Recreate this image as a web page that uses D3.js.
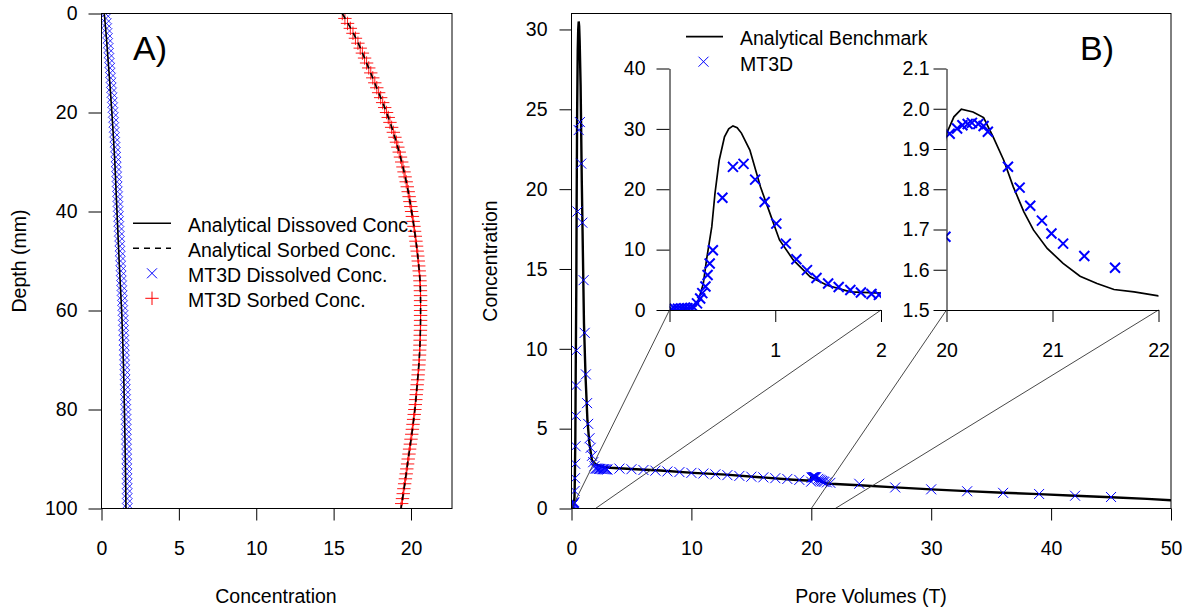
<!DOCTYPE html>
<html><head><meta charset="utf-8">
<script src="https://cdn.jsdelivr.net/npm/d3@7"></script>
<style>body{margin:0;background:#fff} svg text{font-family:"Liberation Sans",Arial,sans-serif}</style>
</head><body><svg id="c" width="1186" height="609"></svg>
<script>
// ---------- Panel A data ----------
const depthLine = [0,5,10,15,20,25,30,35,40,45,50,55,60,65,70,75,80,85,90,95,100];
const anaDissolved = [0.18,0.32,0.44,0.56,0.67,0.77,0.86,0.93,1.00,1.07,1.14,1.22,1.30,1.36,1.41,1.45,1.48,1.51,1.54,1.56,1.58];
const anaSorbed = [15.56,16.44,17.13,17.78,18.42,18.96,19.40,19.76,20.04,20.28,20.47,20.60,20.62,20.60,20.53,20.40,20.25,20.05,19.82,19.60,19.35];
const depthPts = [0,1,2,3,4,5,6,7,8,9,10,11,12,13,14,15,16,17,18,19,20,21,22,23,24,25,26,27,28,29,30,31,32,33,34,35,36,37,38,39,40,41,42,43,44,45,46,47,48,49,50,
  51,52,53,54,55,56,57,58,59,60,61,62,63,64,65,66,67,68,69,70,71,72,73,74,75,76,77,78,79,80,81,82,83,84,85,86,87,88,89,90,91,92,93,94,95,96,97,98,99,100];
const mtDissolved = [0.26,0.29,0.32,0.35,0.37,0.40,0.42,0.45,0.47,0.50,0.52,0.55,0.57,0.60,0.62,0.64,0.66,0.69,0.71,0.73,0.75,0.77,0.79,0.81,0.83,0.85,0.87,0.89,0.91,0.93,
  0.94,0.96,0.97,0.99,1.00,1.02,1.03,1.05,1.06,1.07,1.08,1.10,1.11,1.13,1.14,1.16,1.17,1.19,1.20,1.22,1.23,1.25,1.26,1.28,1.29,1.31,1.32,1.34,1.35,1.37,
  1.38,1.40,1.41,1.42,1.43,1.44,1.45,1.46,1.47,1.48,1.49,1.50,1.51,1.52,1.53,1.54,1.54,1.55,1.56,1.57,1.57,1.58,1.59,1.60,1.60,1.61,1.61,1.62,1.62,1.63,
  1.63,1.64,1.64,1.65,1.65,1.66,1.66,1.66,1.66,1.67,1.67];
const mtSorbed = [15.56,15.73,15.90,16.08,16.25,16.41,16.57,16.72,16.86,17.00,17.13,17.27,17.40,17.53,17.66,17.79,17.91,18.04,18.17,18.30,18.42,18.53,18.64,18.75,18.86,18.96,19.06,19.15,19.24,19.32,
  19.40,19.48,19.55,19.62,19.69,19.76,19.82,19.88,19.93,19.99,20.04,20.09,20.14,20.19,20.23,20.28,20.32,20.36,20.40,20.44,20.47,20.50,20.53,20.56,20.58,20.60,20.61,20.62,20.62,20.62,
  20.62,20.62,20.62,20.62,20.61,20.60,20.59,20.58,20.56,20.55,20.53,20.51,20.48,20.46,20.43,20.40,20.37,20.34,20.31,20.28,20.25,20.21,20.17,20.13,20.09,20.05,20.00,19.96,19.91,19.87,
  19.82,19.78,19.73,19.69,19.64,19.59,19.54,19.50,19.45,19.40,19.35];
const ticksAx = [0,5,10,15,20];
const ticksAy = [0,20,40,60,80,100];
const legendA = ["Analytical Dissoved Conc.","Analytical Sorbed Conc.","MT3D Dissolved Conc.","MT3D Sorbed Conc."];

// ---------- Panel B data ----------
const benchT = [0,0.1,0.2,0.25,0.27,0.32,0.35,0.40,0.43,0.47,0.52,0.56,0.60,0.64,0.68,0.76,0.86,0.95,1.04,1.17,1.33,1.49,1.71,2.0,2.5,3.2,5.0,7.4,10.15,12.9,15.7,18.5,19.6,19.9,20.0,20.07,20.14,20.25,20.35,20.44,20.54,20.63,20.73,20.82,20.95,21.1,21.26,21.42,21.58,21.77,22.0,24,27,30,33,36,39,42,45,48,50];
const benchC = [0,0.05,0.3,0.7,1.4,4.4,8.3,13.8,19.3,24.8,28.7,30.0,30.5,30.2,29.3,26.5,20.4,16.0,11.6,8.3,5.5,4.1,3.0,2.78,2.62,2.55,2.47,2.38,2.23,2.12,1.96,1.80,1.75,1.78,1.938,1.98,1.999,1.992,1.978,1.93,1.872,1.806,1.744,1.699,1.653,1.616,1.584,1.566,1.551,1.545,1.535,1.46,1.32,1.20,1.09,0.99,0.90,0.80,0.70,0.60,0.52];
const mtT = [0.02,0.05,0.08,0.11,0.14,0.17,0.20,0.23,0.26,0.29,0.31,0.34,0.36,0.38,0.41,0.50,0.60,0.70,0.81,0.90,1.01,1.10,1.20,1.30,1.39,1.50,1.60,1.71,1.81,1.91,1.98,
  2.1,2.2,2.3,2.4,2.5,2.6,2.7,2.8,2.9,3.0,4,5,6,7,8,9,10,11,12,13,14,15,16,17,18,19,
  19.99,20.03,20.10,20.15,20.20,20.24,20.30,20.35,20.39,20.58,20.69,20.79,20.90,20.99,21.10,21.30,21.59,
  24,27,30,33,36,39,42,45];
const mtC = [0.15,0.2,0.2,0.25,0.3,0.3,0.35,0.4,1.1,1.9,2.8,3.9,5.8,7.7,9.9,18.6,23.7,24.2,21.6,17.9,14.3,11.0,8.4,6.6,5.3,4.4,3.8,3.3,2.9,2.65,2.5,
  2.5,2.5,2.48,2.48,2.47,2.46,2.46,2.45,2.45,2.44,2.5,2.46,2.41,2.37,2.32,2.28,2.23,2.19,2.14,2.09,2.04,1.99,1.95,1.90,1.85,1.79,
  1.682,1.938,1.951,1.959,1.962,1.965,1.962,1.957,1.943,1.856,1.804,1.759,1.722,1.690,1.665,1.634,1.605,
  1.55,1.32,1.20,1.08,0.98,0.91,0.80,0.72];
const ticksBx = [0,10,20,30,40,50];
const ticksBy = [0,5,10,15,20,25,30];
const ticksI1x = [0,1,2], ticksI1y = [0,10,20,30,40];
const ticksI2x = [20,21,22], ticksI2y = [1.5,1.6,1.7,1.8,1.9,2.0,2.1];
const legendB = ["Analytical Benchmark","MT3D"];

// ---------- setup ----------
const svg = d3.select("#c");
const FS = 19.5;
const defs = svg.append("defs");
function clip(id,x0,y0,x1,y1){defs.append("clipPath").attr("id",id).append("rect").attr("x",x0).attr("y",y0).attr("width",x1-x0).attr("height",y1-y0);}
function xMark(g,cx,cy,r,col,sw){g.append("path").attr("d",`M${cx-r},${cy-r}L${cx+r},${cy+r}M${cx-r},${cy+r}L${cx+r},${cy-r}`).attr("stroke",col).attr("stroke-width",sw).attr("fill","none");}
function plusMark(g,cx,cy,r,col,sw){g.append("path").attr("d",`M${cx-r},${cy}L${cx+r},${cy}M${cx},${cy-r}L${cx},${cy+r}`).attr("stroke",col).attr("stroke-width",sw).attr("fill","none");}
function styleAxis(g,fs){g.attr("font-size",fs).attr("font-family",null);g.selectAll("text").attr("fill","#000");g.selectAll("line,path").attr("stroke","#000");}

// ---------- Panel A ----------
const xA = d3.scaleLinear([0,22.65],[101.5,452]);
const yA = d3.scaleLinear([0,100],[13.5,508.5]);
clip("clipA",101.5,13.5,452,508.5);
const gA = svg.append("g");
const plotA = gA.append("g").attr("clip-path","url(#clipA)");
depthPts.forEach((d,i)=>xMark(plotA,xA(mtDissolved[i]),yA(d),5,"#0000ff",0.8));
depthPts.forEach((d,i)=>plusMark(plotA,xA(mtSorbed[i]),yA(d),6.7,"#ff0000",0.9));
const lineA = d3.line().curve(d3.curveMonotoneY);
plotA.append("path").attr("d",lineA(depthLine.map((d,i)=>[xA(anaDissolved[i]),yA(d)]))).attr("fill","none").attr("stroke","#000").attr("stroke-width",1.6);
plotA.append("path").attr("d",lineA(depthLine.map((d,i)=>[xA(anaSorbed[i]),yA(d)]))).attr("fill","none").attr("stroke","#000").attr("stroke-width",1.6).attr("stroke-dasharray","6,5");
gA.append("rect").attr("x",101.5).attr("y",13.5).attr("width",350.5).attr("height",495).attr("fill","none").attr("stroke","#000");
const axAx = gA.append("g").attr("transform","translate(0,508.5)").call(d3.axisBottom(xA).tickValues(ticksAx).tickSize(12).tickPadding(21).tickSizeOuter(0).tickFormat(d3.format("d")));
styleAxis(axAx,FS); axAx.select(".domain").remove();
const axAy = gA.append("g").attr("transform","translate(101.5,0)").call(d3.axisLeft(yA).tickValues(ticksAy).tickSize(13).tickPadding(11).tickSizeOuter(0).tickFormat(d3.format("d")));
styleAxis(axAy,FS); axAy.select(".domain").remove();
gA.append("text").attr("x",276).attr("y",603).attr("text-anchor","middle").attr("font-size",FS).text("Concentration");
gA.append("text").attr("transform","translate(26,261) rotate(-90)").attr("text-anchor","middle").attr("font-size",FS).text("Depth (mm)");
gA.append("text").attr("x",133).attr("y",60).attr("font-size",34).text("A)");
// legend A
const legAy = [223.3,248.3,273.3,298.3];
gA.append("line").attr("x1",133).attr("x2",171).attr("y1",legAy[0]).attr("y2",legAy[0]).attr("stroke","#000").attr("stroke-width",1.6);
gA.append("line").attr("x1",133).attr("x2",171).attr("y1",legAy[1]).attr("y2",legAy[1]).attr("stroke","#000").attr("stroke-width",1.6).attr("stroke-dasharray","6,5");
xMark(gA,152,legAy[2],5,"#0000ff",1);
plusMark(gA,152,legAy[3],6.7,"#ff0000",1);
legendA.forEach((t,i)=>gA.append("text").attr("x",188).attr("y",legAy[i]+9).attr("font-size",FS).text(t));

// ---------- Panel B main ----------
const xB = d3.scaleLinear([0,50],[571.5,1171]);
const yB = d3.scaleLinear([0,31],[508.5,13.5]);
clip("clipB",571.5,13.5,1171,508.5);
const gB = svg.append("g");
const plotB = gB.append("g").attr("clip-path","url(#clipB)");
plotB.append("path").attr("d",d3.line()(benchT.map((t,i)=>[xB(t),yB(benchC[i])]))).attr("fill","none").attr("stroke","#000").attr("stroke-width",2.4);
mtT.forEach((t,i)=>xMark(plotB,xB(t),yB(mtC[i]),5,"#0000ff",1));

// insets
const xI1 = d3.scaleLinear([0,2],[669.5,881]);
const yI1 = d3.scaleLinear([0,40],[310,68.5]);
const xI2 = d3.scaleLinear([20,22],[946.5,1158.5]);
const yI2 = d3.scaleLinear([1.5,2.1],[310,68.5]);
// connector lines
[[0,xI1,yI1,0],[2,xI1,yI1,0],[20,xI2,yI2,1.5],[22,xI2,yI2,1.5]].forEach(([t,sx,sy,c0])=>{
  gB.append("line").attr("x1",xB(t)).attr("y1",yB(0)).attr("x2",sx(t)).attr("y2",sy(c0)).attr("stroke","#333").attr("stroke-width",0.9);
});
gB.append("rect").attr("x",571.5).attr("y",13.5).attr("width",599.5).attr("height",495).attr("fill","none").attr("stroke","#000");
const axBx = gB.append("g").attr("transform","translate(0,508.5)").call(d3.axisBottom(xB).tickValues(ticksBx).tickSize(12).tickPadding(21).tickSizeOuter(0).tickFormat(d3.format("d")));
styleAxis(axBx,FS); axBx.select(".domain").remove();
const axBy = gB.append("g").attr("transform","translate(571.5,0)").call(d3.axisLeft(yB).tickValues(ticksBy).tickSize(12).tickPadding(12).tickSizeOuter(0).tickFormat(d3.format("d")));
styleAxis(axBy,FS); axBy.select(".domain").remove();
gB.append("text").attr("x",871).attr("y",603).attr("text-anchor","middle").attr("font-size",FS).text("Pore Volumes (T)");
gB.append("text").attr("transform","translate(497,261) rotate(-90)").attr("text-anchor","middle").attr("font-size",FS).text("Concentration");
gB.append("text").attr("x",1080).attr("y",60).attr("font-size",34).text("B)");

function inset(id,sx,sy,tx,ty,pad,fmtX,fmtY){
  const [x0,x1]=sx.range(), [y0,y1]=sy.range();
  clip(id,x0,y1,x1,y0);
  const g = gB.append("g");
  const p = g.append("g").attr("clip-path",`url(#${id})`);
  p.append("path").attr("d",d3.line()(benchT.map((t,i)=>[sx(t),sy(benchC[i])]))).attr("fill","none").attr("stroke","#000").attr("stroke-width",1.7);
  mtT.forEach((t,i)=>xMark(p,sx(t),sy(mtC[i]),5,"#0000ff",2));
  const ax = g.append("g").attr("transform",`translate(0,${y0})`).call(d3.axisBottom(sx).tickValues(tx).tickSize(12).tickPadding(21).tickSizeOuter(0).tickFormat(fmtX));
  styleAxis(ax,FS);
  const ay = g.append("g").attr("transform",`translate(${x0},0)`).call(d3.axisLeft(sy).tickValues(ty).tickSize(13).tickPadding(pad).tickSizeOuter(0).tickFormat(fmtY));
  styleAxis(ay,FS);
}
inset("clipI1",xI1,yI1,ticksI1x,ticksI1y,11,d3.format("d"),d3.format("d"));
inset("clipI2",xI2,yI2,ticksI2x,ticksI2y,4,d3.format("d"),d3.format(".1f"));

// legend B
gB.append("line").attr("x1",686).attr("x2",723).attr("y1",36.7).attr("y2",36.7).attr("stroke","#000").attr("stroke-width",1.7);
xMark(gB,703.5,61.7,5,"#0000ff",1);
legendB.forEach((t,i)=>gB.append("text").attr("x",740).attr("y",[45,70.5][i]).attr("font-size",FS).text(t));
</script></body></html>
